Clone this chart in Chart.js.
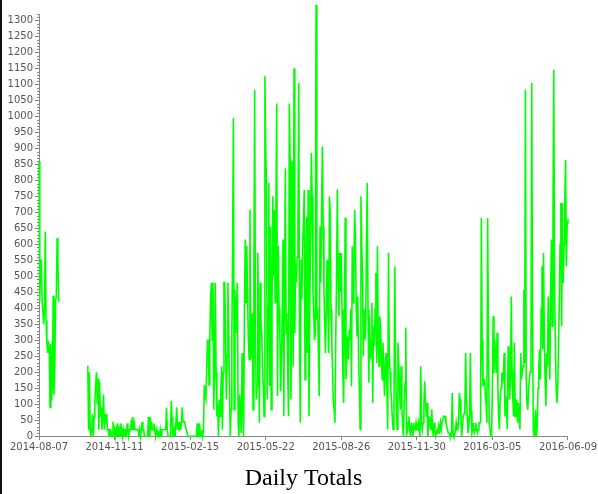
<!DOCTYPE html>
<html>
<head>
<meta charset="utf-8">
<title>Daily Totals</title>
<script src="https://cdn.jsdelivr.net/npm/chart.js@4.4.1/dist/chart.umd.min.js"></script>
<style>
  html, body { margin: 0; padding: 0; background: #fff; }
  #wrap { width: 598px; height: 494px; position: relative; }
</style>
</head>
<body>
<div id="wrap"><canvas id="dailyTotalsChart"></canvas></div>
<script>
// First day of the series, every value below is one day
const firstDay = '2014-08-07';

// Tick labels on the date axis
const xTickLabels = ['2014-08-07', '2014-11-11', '2015-02-15', '2015-05-22',
  '2015-08-26', '2015-11-30', '2016-03-05', '2016-06-09'];

// Tick values on the totals axis
const yTickValues = [0, 50, 100, 150, 200, 250, 300, 350, 400, 450, 500, 550, 600,
  650, 700, 750, 800, 850, 900, 950, 1000, 1050, 1100, 1150, 1200, 1250, 1300];

// Daily totals, one array per stretch of days (start date of each stretch)
const aug2014Start = '2014-08-07';
const aug2014 = [860, 420, 550, 550, 420, 420, 350, 400, 640, 360, 290, 260, 290, 280, 90, 290,
  110, 160, 440, 130, 200, 420, 440, 620, 550, 420];

// no data from 2014-09-02 to 2014-10-07

const oct2014Start = '2014-10-08';
const oct2014 = [220, 20, 200, 20, 0, 20, 70, 0, 60, 110, 160, 200, 100, 180, 20, 170, 60, 90,
  20, 70, 130, 20, 70, 40, 70, 20, 20, 0, 20, 20, 0, 0, 45, 0];

const nov2014Start = '2014-11-11';
const nov2014 = [20, 0, 20, 0, 40, 0, 20, 0, 40, 20, 0, 20, 0, 20, 20, 0, 40, 20, 0, 20,
  20, 40, 20, 60, 20, 40, 20, 20, 20, 20, 20, 0, 20, 0, 20, 45, 20, 20, 0, 0, 0, 0, 0];

const dec2014Start = '2014-12-24';
const dec2014 = [60, 0, 60, 20, 45, 20, 20, 40, 20, 0,
  20, 0, 20, 0, 0, 20, 0, 20, 20, 20,
  20, 20, 20, 90, 20, 0, 0, 0, 0, 110,
  60, 0, 0, 20, 0, 0, 90, 20, 45, 20,
  45, 20, 45, 90, 45, 45, 45, 30, 20, 20,
  0, 0, 0, 0, 0, 0, 0, 0, 0, 0,
  0, 0, 40, 0, 0, 40, 0, 0, 20, 0,
  20];

const mar2015Start = '2015-03-05';
const mar2015 = [160, 125, 115, 200, 300, 300, 160, 300, 437, 480,
  300, 480, 83, 200, 480, 200, 62, 100, 0, 115,
  62, 140, 219, 20, 200, 480, 480, 323, 115, 250,
  480, 323, 150, 0, 83, 300, 600, 995, 83, 458,
  323, 400, 480, 42, 0, 130, 60, 10, 260, 100,
  0, 400, 615, 417, 595, 437, 300, 240, 708, 240,
  300, 385, 83, 500, 1083, 300, 115, 160, 573, 300,
  42, 480, 350, 323, 219, 150, 62, 1125, 900, 792,
  115, 400];

const may2015Start = '2015-05-26';
const may2015 = [792, 156, 656, 83, 400, 750, 500, 708, 417, 700,
  1040, 125, 595, 400, 323, 140, 250, 365, 615, 62,
  500, 838, 323, 385, 200, 62, 1040, 865, 115, 400,
  857, 219, 1150, 323, 540, 480, 560, 636, 1104, 300,
  42, 552, 427, 600, 677, 770, 177, 500, 686, 260,
  770, 62, 400, 636, 886, 750, 458, 385, 300, 323,
  1349, 365, 400, 260, 125, 656, 480, 700, 906, 656,
  458, 350, 260, 400, 552, 400, 260, 750];

const aug2015Start = '2015-08-12';
const aug2015 = [700, 396, 292, 200, 104, 80, 42, 300, 490, 771,
  500, 375, 573, 450, 573, 396, 200, 104, 354, 683,
  177, 250, 312, 240, 333, 300, 396, 156, 594, 417,
  500, 708, 625, 400, 312, 437, 250, 146, 21, 750,
  600, 500, 250, 396, 300, 333, 600, 792, 396, 167,
  375, 240, 300, 417, 104, 344, 281, 400, 510, 229,
  594, 300, 219, 375, 333, 250, 177, 292, 200, 125,
  229, 260, 150, 21, 573, 250, 200, 146, 104, 50,
  21, 115, 531, 229, 100, 21, 292, 229, 150, 83,
  219, 100, 31, 0, 100, 167, 340, 0, 20, 42,
  62, 20, 0, 42, 20, 0, 42, 20, 20, 42,
  20, 20, 42, 20, 0, 219];

const dec2015Start = '2015-12-06';
const dec2015 = [42, 20, 42, 100, 172, 104, 60, 104, 0, 30,
  62, 42, 20, 83, 20, 0, 42, 20, 0, 10,
  20, 10, 30, 20, 42, 20, 42, 42, 62, 62,
  62, 42, 30, 20, 10, 10, 0, 0, 0, 135,
  10, 0, 0, 20, 42, 20, 20, 42, 135, 115,
  60, 0, 30, 62, 70, 83, 260, 120, 62, 10,
  30, 62, 260, 80, 10, 20, 42, 10, 20, 42,
  20, 10, 20, 42, 42];

const feb2016Start = '2016-02-19';
const feb2016 = [42, 682, 300, 156, 177, 177, 135, 100, 42, 682,
  300, 42, 21, 0, 0, 146, 375, 198, 302, 250,
  198, 323, 150, 62, 21, 125, 150, 198, 167, 200,
  260, 62, 125, 80, 21, 281, 200, 115, 177, 437,
  200, 115, 62, 292, 62, 100, 115, 42, 104, 60,
  21, 260, 177, 200, 219, 458, 229, 1083, 177, 100,
  83, 146, 177, 200, 219, 1104, 375, 21, 0, 50,
  83, 0, 31, 150, 219, 271, 177, 400, 531, 271,
  573, 300, 177, 94, 260, 219, 437, 300, 177, 437,
  615, 344, 700, 1146, 479, 292, 146, 104, 150, 271,
  416, 600, 729, 344, 729, 479, 600, 729, 864, 531,
  667, 680];

const stretches = [
  [aug2014Start, aug2014], [oct2014Start, oct2014], [nov2014Start, nov2014],
  [dec2014Start, dec2014], [mar2015Start, mar2015], [may2015Start, may2015],
  [aug2015Start, aug2015], [dec2015Start, dec2015], [feb2016Start, feb2016]
];

function dayOf(dateStr) {
  return Math.round((Date.parse(dateStr) - Date.parse(firstDay)) / 86400000);
}

// Build the point list, with a null where the data stops
const points = [];
stretches.forEach(function(s) {
  const start = dayOf(s[0]);
  if (points.length && points[points.length - 1].x < start - 1) {
    points.push({ x: points[points.length - 1].x + 1, y: null });
  }
  s[1].forEach(function(v, i) {
    points.push({ x: start + i, y: v });
  });
});

const lastDay = dayOf(xTickLabels[xTickLabels.length - 1]);
const tickLabelByDay = {};
xTickLabels.forEach(function(d) { tickLabelByDay[dayOf(d)] = d; });

// Thin marks every 10 on the left axis plus the dark strip on the left edge
const axisExtras = {
  id: 'axisExtras',
  afterDraw(chart) {
    const ctx = chart.ctx;
    const y = chart.scales.y;
    ctx.save();
    ctx.strokeStyle = '#888';
    ctx.lineWidth = 1;
    ctx.beginPath();
    for (let v = 0; v <= 1320; v += 10) {
      const py = Math.round(y.getPixelForValue(v)) + 0.5;
      ctx.moveTo(y.right - 2, py);
      ctx.lineTo(y.right, py);
    }
    ctx.stroke();
    ctx.fillStyle = '#111';
    ctx.fillRect(0, 0, 2, chart.height);
    ctx.restore();
  }
};

const ctx = document.getElementById('dailyTotalsChart');

const dailyTotalsChart = new Chart(ctx, {
  type: 'line',
  data: {
    datasets: [{
      label: 'Daily Totals',
      data: points,
      borderColor: '#00ff00',
      backgroundColor: '#00ff00',
      borderWidth: 1.6,
      pointRadius: 0,
      tension: 0,
      spanGaps: false,
      clip: false
    }]
  },
  options: {
    responsive: true,
    maintainAspectRatio: false,
    animation: false,
    layout: { padding: { top: 14, left: 0, right: 0, bottom: 0 } },
    plugins: {
      legend: { display: false },
      tooltip: { enabled: false },
      title: {
        display: true,
        text: 'Daily Totals',
        position: 'bottom',
        fullSize: false,
        color: '#000',
        font: { family: 'Liberation Serif', size: 24, weight: 'normal' },
        padding: { top: 8, bottom: 1 }
      }
    },
    scales: {
      x: {
        type: 'linear',
        min: 0,
        max: lastDay,
        afterBuildTicks: function(scale) {
          scale.ticks = xTickLabels.map(function(d) { return { value: dayOf(d) }; });
        },
        afterFit: function(scale) { scale.height = 20; },
        ticks: {
          autoSkip: false,
          maxRotation: 0,
          padding: 1,
          color: '#555',
          font: { family: 'DejaVu Sans', size: 10 },
          callback: function(value) { return tickLabelByDay[value]; }
        },
        grid: { drawOnChartArea: false, tickLength: 4, color: '#888' },
        border: { color: '#888' }
      },
      y: {
        min: 0,
        max: 1320,
        afterBuildTicks: function(scale) {
          scale.ticks = yTickValues.map(function(v) { return { value: v }; });
        },
        afterFit: function(scale) { scale.width = 39; },
        ticks: {
          padding: 2,
          color: '#555',
          font: { family: 'DejaVu Sans', size: 10 },
          callback: function(value) { return String(value); }
        },
        grid: { drawOnChartArea: false, tickLength: 4, color: '#888' },
        border: { color: '#888' }
      }
    }
  },
  plugins: [axisExtras]
});
</script>
</body>
</html>
